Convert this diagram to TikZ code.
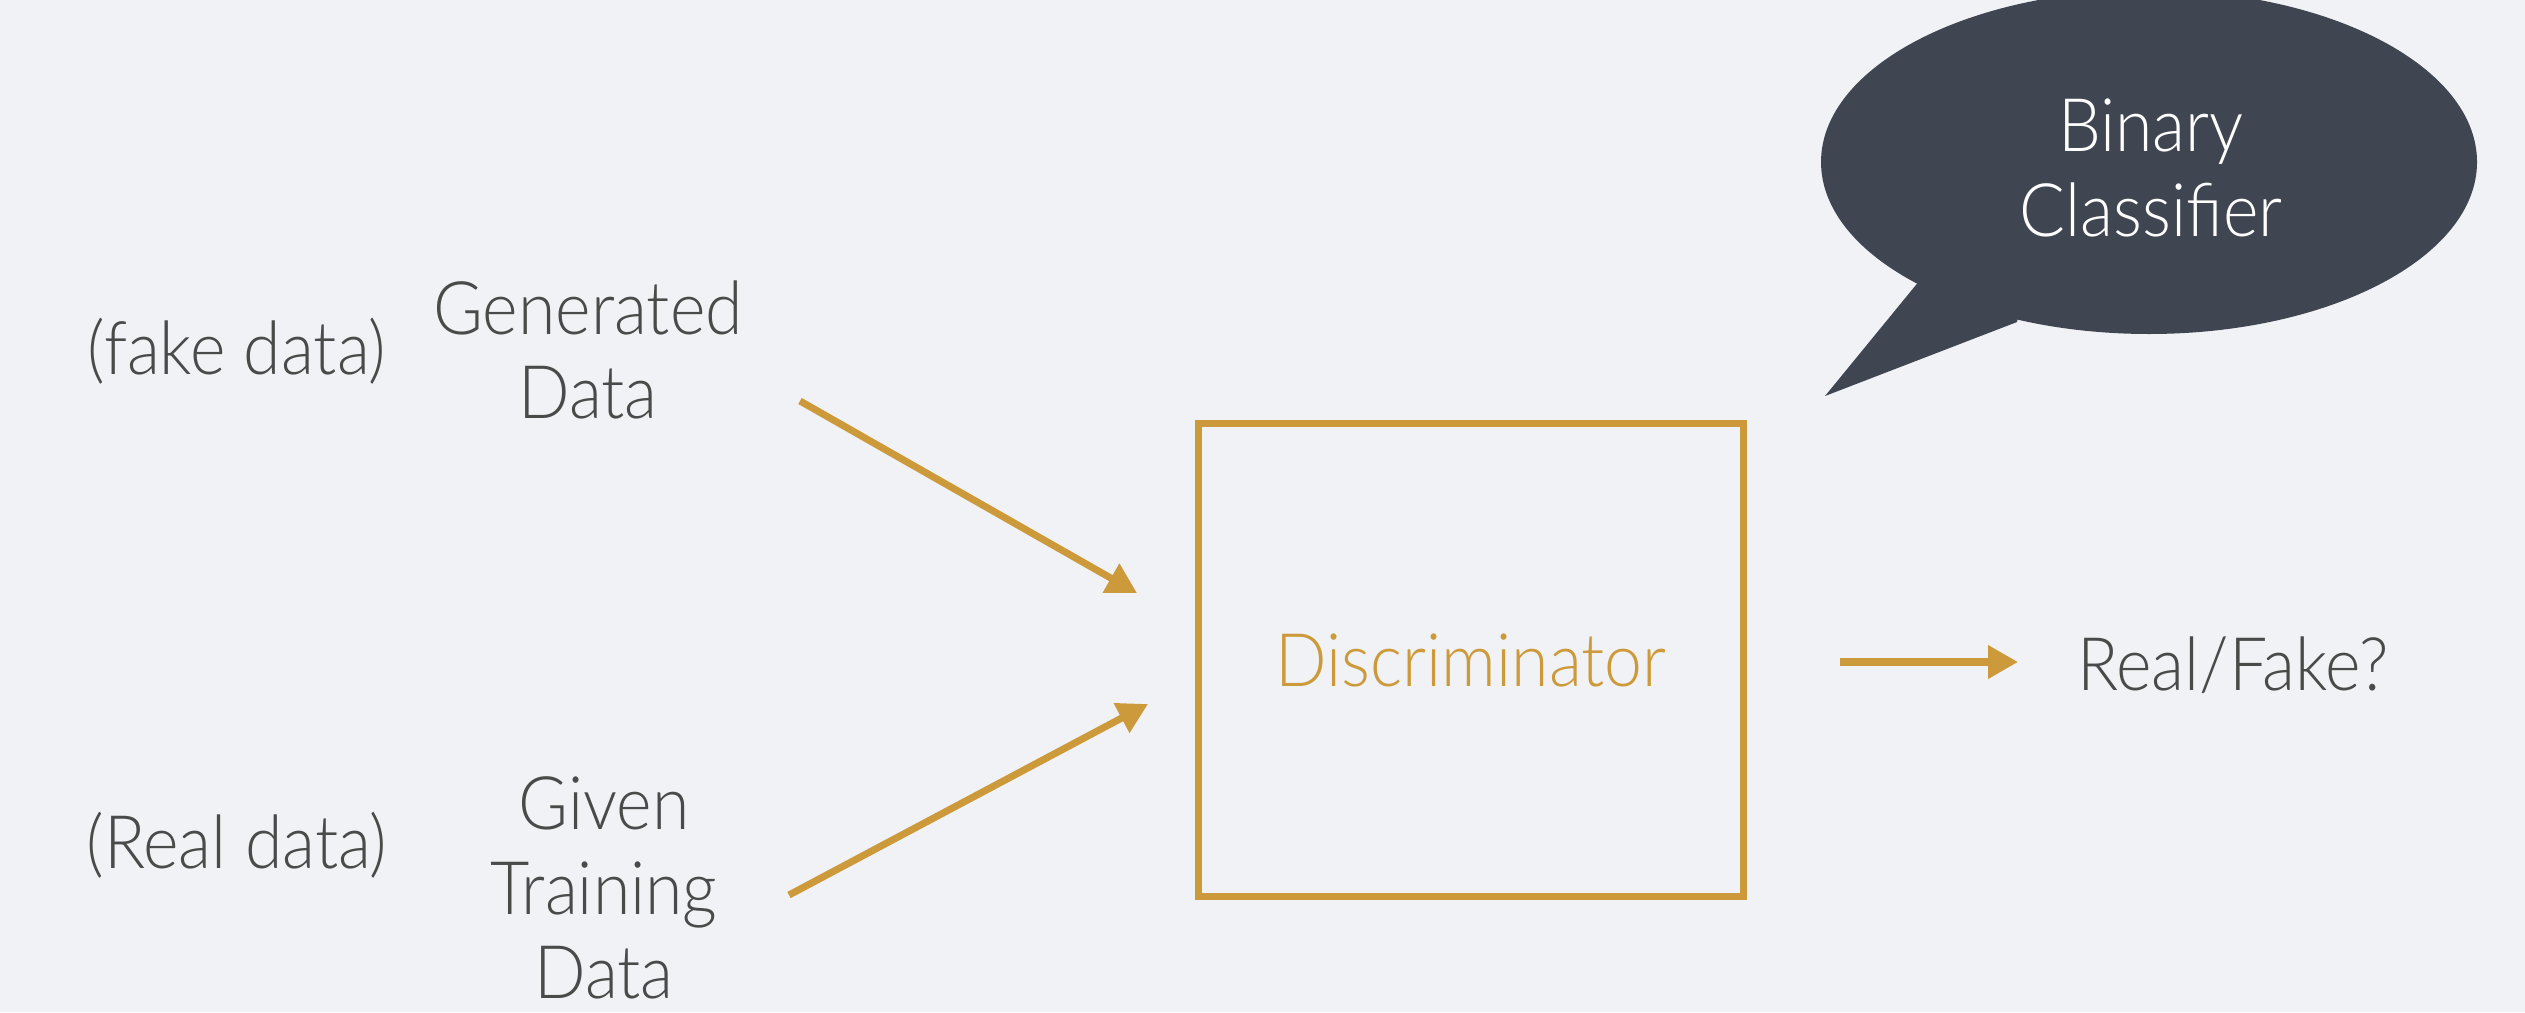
\documentclass[tikz,border=0pt]{standalone}
\usepackage{fontspec}
\setmainfont{Lato}[UprightFont={* Light}, FakeStretch=0.92]
\usetikzlibrary{arrows.meta,shapes.geometric}
\definecolor{bg}{HTML}{F1F2F5}
\definecolor{gold}{HTML}{CC9A3B}
\definecolor{txt}{HTML}{4A4A4A}
\definecolor{bubble}{HTML}{3F4551}
\tikzset{
  lbl/.style={text=txt, align=center, font=\fontsize{21pt}{24pt}\selectfont, inner sep=0pt},
  conn/.style={draw=gold, line width=2pt, -{Triangle[length=0.3cm,width=0.32cm]}},
  discbox/.style={draw=gold, line width=2pt, minimum width=5.45cm, minimum height=4.72cm, text=gold, font=\fontsize{21pt}{24pt}\selectfont}
}
\begin{document}
\begin{tikzpicture}[x=0.01cm,y=-0.01cm]
\fill[bg] (0,0) rectangle (2525,1012);
\useasboundingbox (0,0) rectangle (2525,1012);
% bubble
\fill[bubble] (2149,162) ellipse [x radius=328, y radius=172];
\fill[bubble] (1920,280) -- (1825,396) -- (2017,322) -- (2030,250) -- cycle;
\node[lbl, text=white] (bin) at (2151,168) {Binary\\Classifier};
% labels
\node[lbl] (fake) at (237,351) {(fake data)};
\node[lbl] (gen) at (588,350) {Generated\\Data};
\node[lbl] (real) at (237,845) {(Real data)};
\node[lbl] (given) at (604,888) {Given\\Training\\Data};
\node[discbox] (disc) at (1471,660) {Discriminator};
\node[lbl] (rf) at (2233,665) {Real/Fake?};
% connector end points
\coordinate (g1) at (800,401);
\coordinate (g2) at (1137,593);
\coordinate (t1) at (789,895);
\coordinate (t2) at (1148,704);
\coordinate (o1) at (1840,662);
\coordinate (o2) at (2018,662);
\draw[conn] (g1) -- (g2);
\draw[conn] (t1) -- (t2);
\draw[conn] (o1) -- (o2);
\end{tikzpicture}
\end{document}
